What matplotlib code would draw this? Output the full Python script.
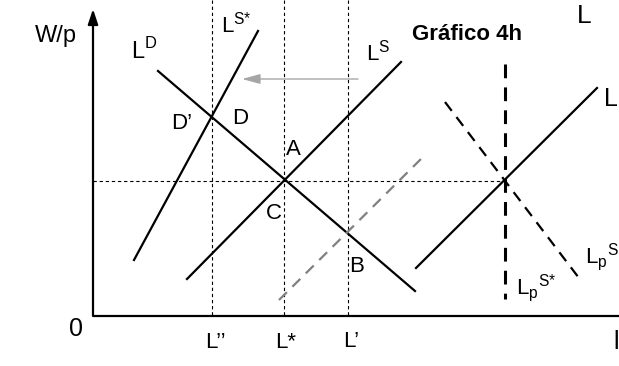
import matplotlib
matplotlib.use("Agg")
import matplotlib.pyplot as plt

plt.rcParams['font.family'] = ['Liberation Sans', 'DejaVu Sans']

# Diagram geometry (in picture units: x right, y down)
origin = (93, 316)
x_end = 619
y_top = 9
eq_y = 181                      # equilibrium real wage
vlines_x = [212, 284, 348]      # L'', L*, L'
ld_line = ([158, 415], [71, 291])
lss_line = ([134, 258], [260, 31])
ls_line = ([187, 401], [279, 62])
ls_shift = ([279, 426], [300, 154])
arrow_y = 79
arrow_x = (358, 242)
right_ls = ([416, 597], [268, 88])
right_vert = ([505, 505], [64, 299])
right_diag = ([445, 582], [102, 282])
eq_x_right = 505

fig = plt.figure(figsize=(6.19, 3.66), dpi=100)
ax = fig.add_axes([0, 0, 1, 1])
ax.set_xlim(0, 619)
ax.set_ylim(366, 0)
ax.axis('off')

# axes
ax.plot([origin[0], x_end], [origin[1], origin[1]], color='black', lw=1.6, solid_capstyle='butt')
ax.annotate('', xy=(origin[0], y_top), xytext=(origin[0], origin[1]),
            arrowprops=dict(arrowstyle='-|>,head_width=0.3,head_length=0.9', color='black', lw=1.6,
                            shrinkA=0, shrinkB=0))

# dashed guides
ax.plot([origin[0], eq_x_right], [eq_y, eq_y], color='black', lw=0.8, ls=(0, (3, 2.5)))
for vx in vlines_x:
    ax.plot([vx, vx], [0, origin[1]], color='black', lw=0.8, ls=(0, (3, 2.5)))

# curves
ax.plot(*ld_line, color='black', lw=1.6)
ax.plot(*lss_line, color='black', lw=1.6)
ax.plot(*ls_line, color='black', lw=1.6)
ax.plot(*ls_shift, color='#808080', lw=1.6, ls=(0, (5, 3.5)))
ax.annotate('', xy=(arrow_x[1], arrow_y), xytext=(arrow_x[0], arrow_y),
            arrowprops=dict(arrowstyle='-|>,head_width=0.3,head_length=1.1', color='#a6a6a6', lw=1.0,
                            shrinkA=0, shrinkB=0))
ax.plot(*right_ls, color='black', lw=1.6)
ax.plot(*right_vert, color='black', lw=2.2, ls=(0, (4.5, 3)))
ax.plot(*right_diag, color='black', lw=1.6, ls=(0, (5, 3.5)))

def t(x, y, s, fs=15, **kw):
    ax.text(x, y, s, fontsize=fs, ha='left', va='baseline', **kw)

t(35, 42, 'W/p', fs=17)
t(69, 336, '0', fs=18)
t(131, 59, r'L$^{\mathregular{D}}$', fs=17)
t(221, 32, r'L$^{\mathregular{S{*}}}$', fs=16)
t(366, 60, r'L$^{\mathregular{S}}$', fs=16)
t(412, 40, 'Gráfico 4h', fs=16, fontweight='bold')
t(577, 23, 'L', fs=19)
t(604, 106, 'L', fs=18)
t(171, 129, 'D’', fs=16)
t(232, 124, 'D', fs=16)
t(286, 155, 'A', fs=16)
t(266, 219, 'C', fs=16)
t(349, 272, 'B', fs=16)
t(585, 263, r'L$_{\mathregular{p}}$$^{\mathregular{S}}$', fs=16)
t(516, 294, r'L$_{\mathregular{p}}$$^{\mathregular{S{*}}}$', fs=16)
t(205, 348, 'L’’', fs=16)
t(275, 348, 'L*', fs=16)
t(343, 347, 'L’', fs=16)
t(613, 349, 'l', fs=18)

fig.savefig('out.png', dpi=100)
